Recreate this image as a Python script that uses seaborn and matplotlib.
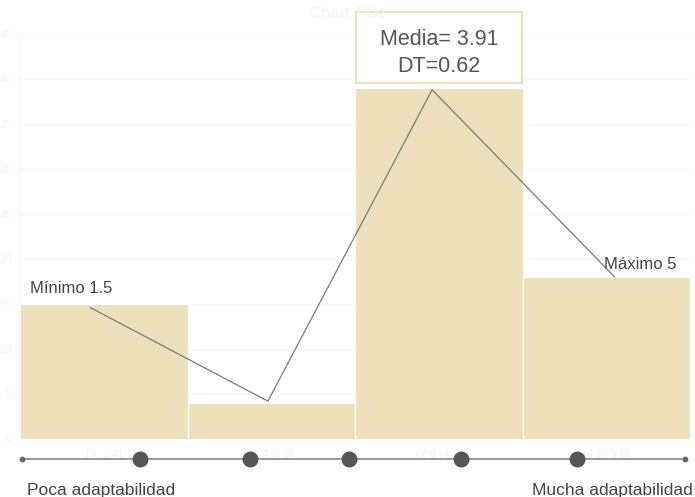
import matplotlib
matplotlib.use("Agg")
import matplotlib.pyplot as plt
from matplotlib.patches import Rectangle
import seaborn as sns
import pandas as pd

categories = ["[0, 1.4]", "(1.4, 2.8]", "(2.8, 4.2]", "(4.2, 5.6]"]
counts = [15, 4, 39, 18]
yticks = [0, 5, 10, 15, 20, 25, 30, 35, 40, 45]

# annotation polyline (data coords on the bar axes)
path_x = [-0.08, 0.98, 1.96, 3.05]
path_y = [14.6, 4.2, 38.8, 18.0]
min_label = "Mínimo 1.5"
max_label = "Máximo 5"
box_label = "Media= 3.91\nDT=0.62"
left_label = "Poca adaptabilidad"
right_label = "Mucha adaptabilidad"
slider_dots = [0.216, 0.873, 1.464, 2.133, 2.825]

sns.set_theme(style="white")
plt.rcParams['font.family'] = ['Liberation Sans', 'DejaVu Sans']

fig = plt.figure(figsize=(6.95, 4.97), dpi=100)
W, H = 695, 497
ax = fig.add_axes([20 / W, (H - 439) / H, 670 / W, (439 - 34) / H])

df = pd.DataFrame({"cat": categories, "n": counts})
bar_color = "#ede1bc"
sns.barplot(data=df, x="cat", y="n", ax=ax, color=bar_color, width=1.0,
            saturation=1, edgecolor="white", linewidth=0.8, zorder=2)

ax.set_xlim(-0.5, 3.5)
ax.set_ylim(0, 45)
ax.set_yticks(yticks)
ax.yaxis.grid(True, color="#f7f7f7", linewidth=1, zorder=0)
ax.set_axisbelow(True)
for s in ax.spines.values():
    s.set_visible(False)
ax.spines['left'].set_visible(True)
ax.spines['left'].set_color("#f7f7f7")
ax.tick_params(axis='y', colors="#f2f2f2", labelsize=8, length=0, pad=6)
ax.tick_params(axis='x', colors="#f2f2f2", labelsize=8.5, length=0, pad=7)
ax.set_xlabel("")
ax.set_ylabel("")

ax.plot(path_x, path_y, color="#7a7a7a", linewidth=0.9, zorder=3)

ax.text(-0.44, 16.2, min_label, fontsize=12, color="#444444", zorder=4)
ax.text(3.42, 18.9, max_label, fontsize=12, color="#444444", ha="right", zorder=4)

fig.text(347 / W, 1 - 13 / H, "Chart Title", ha="center", va="center",
         fontsize=12, color="#f4f4f4")

# stats box spanning the tallest bar's width
ax.add_patch(Rectangle((1.505, 39.6), 0.99, 7.8, facecolor="white",
                       edgecolor="#eee0b8", linewidth=1.4, clip_on=False, zorder=5))
ax.text(2.0, 42.85, box_label, ha="center", va="center", fontsize=15.5,
        color="#555555", linespacing=1.38, zorder=6, clip_on=False)

# bottom scale line with dots
yline = -(459 - 439) / 9.0
ax.plot([-0.488, 3.47], [yline, yline], color="#888888", linewidth=1.2,
        clip_on=False, zorder=3)
ax.scatter([-0.488, 3.47], [yline, yline], s=10, color="#666666",
           clip_on=False, zorder=4)
ax.scatter(slider_dots, [yline] * len(slider_dots), s=110, color="#555555",
           clip_on=False, zorder=4)

fig.text(27 / W, 1 - 491 / H, left_label, ha="left", va="center",
         fontsize=12.5, color="#444444")
fig.text(693 / W, 1 - 491 / H, right_label, ha="right", va="center",
         fontsize=12.5, color="#444444")

fig.savefig("out.png", dpi=100, facecolor="white")
